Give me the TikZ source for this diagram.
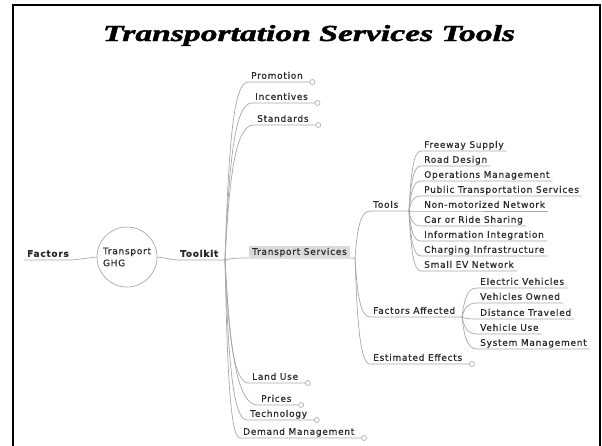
\documentclass[tikz,border=0pt]{standalone}
\usepackage{fontspec}
\newfontfamily\djsans{DejaVu Sans}[LetterSpace=8, FakeBold=0.6]
\newfontface\titlefont{Liberation Serif Bold Italic}[FakeBold=1.5]
\usetikzlibrary{calc}
\definecolor{linec}{HTML}{A8A8A8}
\definecolor{txtc}{HTML}{2A2A2A}
\definecolor{boxc}{HTML}{DADADA}
\begin{document}
\begin{tikzpicture}[x=1pt,y=-1pt,
  conn/.style={draw=linec, line width=0.7pt},
  leaf/.style={anchor=south west, font=\djsans\fontsize{9}{10}\selectfont, text=txtc,
    text height=6.5pt, text depth=0pt, inner xsep=3pt, inner ysep=3pt},
  bleaf/.style={leaf, font=\djsans\bfseries\fontsize{9}{10}\selectfont},
  endc/.style={draw=linec, fill=white, line width=0.6pt},
  br/.style={to path={.. controls ($(\tikztostart)!0.55!(\tikztostart|-\tikztotarget)!0.15!(\tikztotarget)$) and ($(\tikztostart|-\tikztotarget)!0.35!(\tikztotarget)$) .. (\tikztotarget)}},
]
\useasboundingbox (0,0) rectangle (602,445);
\fill[white] (0,0) rectangle (602,445);
% frame
\draw[line width=2pt] (13,446) -- (13,5) -- (600,5) -- (600,446);
% title
\node[font=\titlefont\fontsize{23}{26}\selectfont, anchor=base, inner sep=0pt] (title) at (309,41) {\resizebox{412pt}{\height}{Transportation Services Tools}};

% root
\node[circle, draw=linec, line width=0.7pt, minimum size=60pt, inner sep=0pt,
  font=\djsans\fontsize{9}{12}\selectfont, text=txtc, align=left] (ghg) at (127,257) {Transport\\GHG};
\node[bleaf] (factors) at (24,260) {Factors};
\node[bleaf] (toolkit) at (177,260) {Toolkit};
\coordinate (hubK) at (225,260);
\draw[conn] (factors.south west) -- (factors.south east) -- (ghg.west);
\draw[conn] (ghg.east) -- (toolkit.south west) -- (hubK);

% level 1
\node[leaf] (promo) at (248,82) {Promotion};
\node[leaf] (incent) at (252,103) {Incentives};
\node[leaf] (stand) at (254,125) {Standards};
\node[leaf, fill=boxc, inner ysep=2pt] (ts) at (249,257) {Transport Services};
\node[leaf] (land) at (249,383) {Land Use};
\node[leaf] (prices) at (258,405) {Prices};
\node[leaf] (tech) at (247,420) {Technology};
\node[leaf] (dm) at (240,438) {Demand Management};
\coordinate (hubT) at (355,258);

\foreach \n in {promo,incent,stand,land,prices,tech,dm}{
  \draw[conn] (hubK) to[br] (\n.south west) -- ($(\n.south east)+(4,0)$);
  \draw[endc] ($(\n.south east)+(6.5,0)$) circle (2.5);
}
\draw[conn] (hubK) to[br] ($(ts.south west)+(0,1)$) -- (hubT);

% level 2
\node[leaf] (tools) at (370,211) {Tools};
\node[leaf] (fa) at (370,317) {Factors Affected};
\node[leaf] (ee) at (370,364) {Estimated Effects};
\coordinate (hubTools) at (409,211);
\coordinate (hubFA) at (462,317);
\draw[conn] (hubT) to[br] (tools.south west) -- (hubTools);
\draw[conn] (hubT) to[br] (fa.south west) -- (hubFA);
\draw[conn] (hubT) to[br] (ee.south west) -- ($(ee.south east)+(4,0)$);
\draw[endc] ($(ee.south east)+(6.5,0)$) circle (2.5);

% tools children
\node[leaf] (t1) at (421,151) {Freeway Supply};
\node[leaf] (t2) at (421,166) {Road Design};
\node[leaf] (t3) at (421,181) {Operations Management};
\node[leaf] (t4) at (421,196) {Public Transportation Services};
\node[leaf] (t5) at (421,211) {Non-motorized Network};
\node[leaf] (t6) at (421,226) {Car or Ride Sharing};
\node[leaf] (t7) at (421,241) {Information Integration};
\node[leaf] (t8) at (421,256) {Charging Infrastructure};
\node[leaf] (t9) at (421,271) {Small EV Network};
\foreach \n in {t1,t2,t3,t4,t5,t6,t7,t8,t9}{
  \draw[conn] (hubTools) to[br] (\n.south west) -- (\n.south east);
}

% factors affected children
\node[leaf] (f1) at (477,288) {Electric Vehicles};
\node[leaf] (f2) at (477,303) {Vehicles Owned};
\node[leaf] (f3) at (477,319) {Distance Traveled};
\node[leaf] (f4) at (477,334) {Vehicle Use};
\node[leaf] (f5) at (477,349) {System Management};
\foreach \n in {f1,f2,f3,f4,f5}{
  \draw[conn] (hubFA) to[br] (\n.south west) -- (\n.south east);
}
\end{tikzpicture}
\end{document}
